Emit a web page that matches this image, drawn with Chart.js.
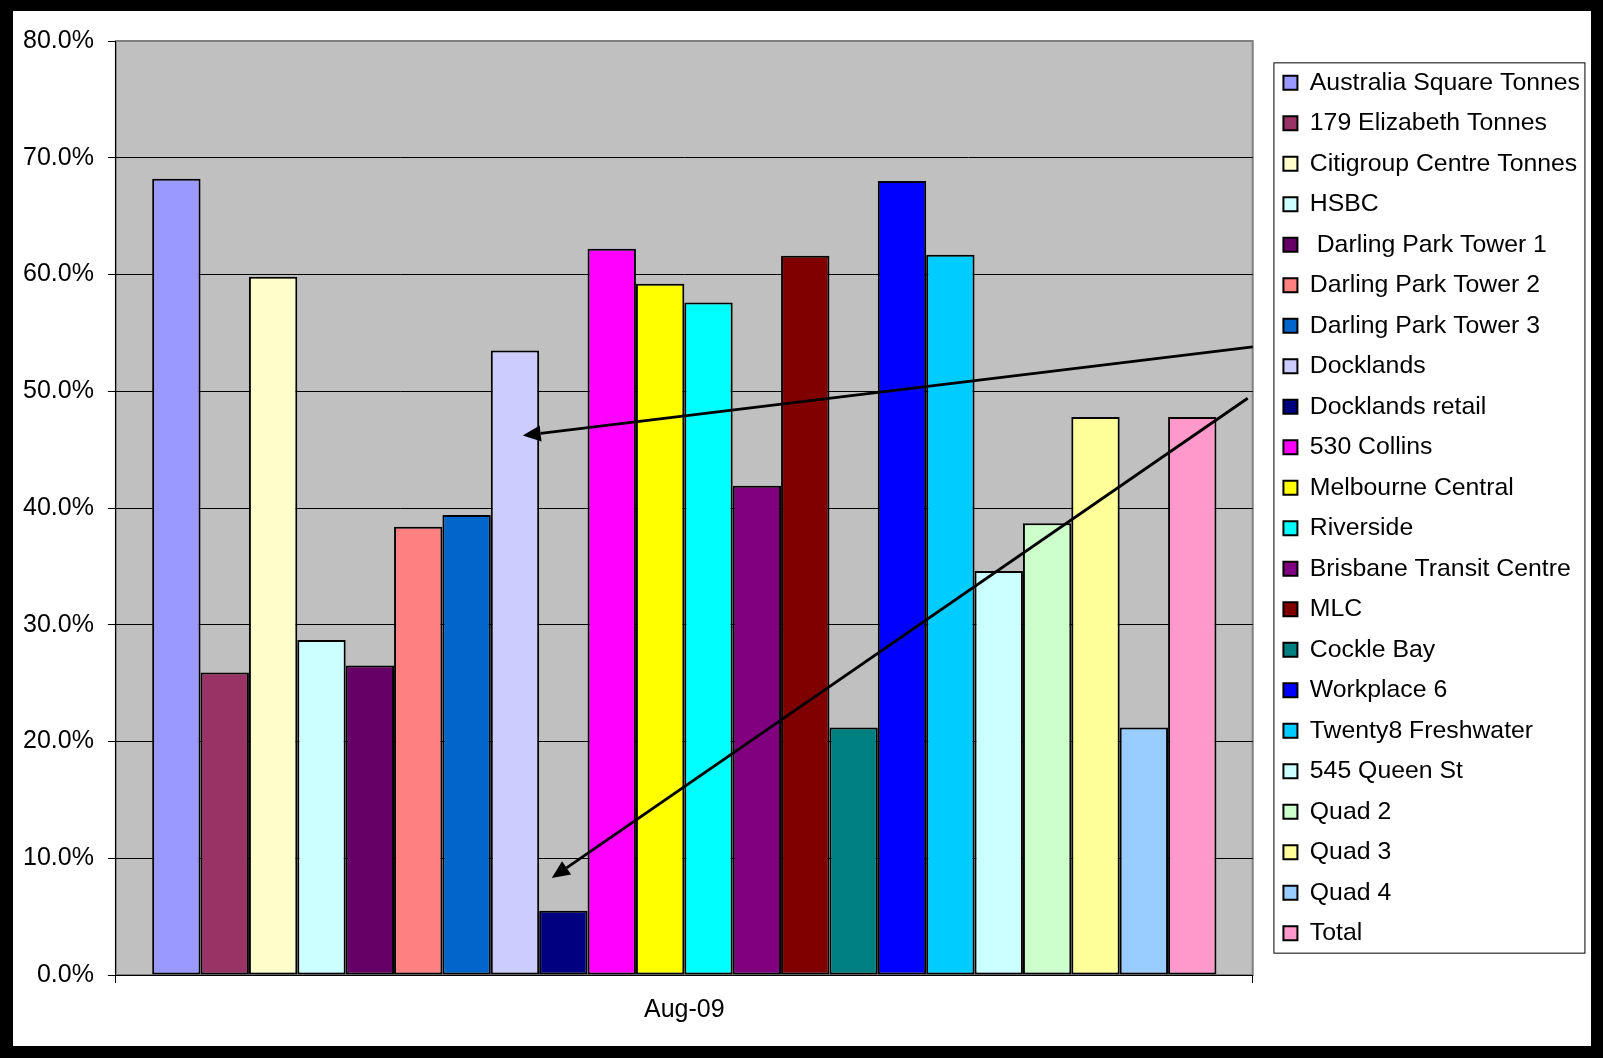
<!DOCTYPE html>
<html>
<head>
<meta charset="utf-8">
<title>Aug-09</title>
<script src="https://cdn.jsdelivr.net/npm/chart.js@4.4.1/dist/chart.umd.min.js"></script>
<style>
  html, body { margin: 0; padding: 0; background: #000; }
  #paper { position: absolute; left: 13px; top: 11px; width: 1578px; height: 1035px; background: #fff; }
  #chart { position: absolute; left: 0; top: 0; }
</style>
</head>
<body>
<div id="paper"></div>
<canvas id="chart" width="1603" height="1058"></canvas>
<script>
// Category on the x axis (only one month)
const categories = ["Aug-09"];

// One series per building (percent)
const seriesNames = [
  "Australia Square Tonnes", "179 Elizabeth Tonnes", "Citigroup Centre Tonnes", "HSBC",
  " Darling Park Tower 1", "Darling Park Tower 2", "Darling Park Tower 3", "Docklands",
  "Docklands retail", "530 Collins", "Melbourne Central", "Riverside",
  "Brisbane Transit Centre", "MLC", "Cockle Bay", "Workplace 6",
  "Twenty8 Freshwater", "545 Queen St", "Quad 2", "Quad 3", "Quad 4", "Total"
];
const seriesValues = [
  68.2, 25.9, 59.8, 28.7,
  26.5, 38.4, 39.4, 53.5,
  5.5, 62.2, 59.2, 57.6,
  41.9, 61.6, 21.2, 68.0,
  61.7, 34.6, 38.7, 47.8, 21.2, 47.8
];
const seriesColors = [
  "#9999FF", "#993366", "#FFFFCC", "#CCFFFF",
  "#660066", "#FF8080", "#0066CC", "#CCCCFF",
  "#000080", "#FF00FF", "#FFFF00", "#00FFFF",
  "#800080", "#800000", "#008080", "#0000FF",
  "#00CCFF", "#CCFFFF", "#CCFFCC", "#FFFF99", "#99CCFF", "#FF99CC"
];

// y axis range (percent)
const yMin = 0;
const yMax = 80;
const yStep = 10;

// The two hand-drawn arrows: tail on the right edge of the plot, head on a bar
const arrows = [
  { fromValue: 53.8, fromInset: 0, toSeries: 7, toShift: 0.16, toValue: 46.2 },
  { fromValue: 49.4, fromInset: 5, toSeries: 8, toShift: -0.24, toValue: 8.3 }
];

Chart.defaults.font.family = '"Liberation Sans", Arial, sans-serif';
Chart.defaults.color = "#000";

const legendFont = 24.8;

// grey plot background with a grey frame
const plotBackground = {
  id: "plotBackground",
  beforeDraw(chart) {
    const { ctx, chartArea: a } = chart;
    ctx.save();
    ctx.fillStyle = "#C0C0C0";
    ctx.fillRect(a.left, a.top, a.width, a.height);
    ctx.strokeStyle = "#808080";
    ctx.lineWidth = 2;
    ctx.strokeRect(a.left, a.top, a.width, a.height);
    ctx.restore();
  }
};

// box round the legend
const legendFrame = {
  id: "legendFrame",
  afterDraw(chart) {
    const lg = chart.legend;
    const boxes = lg.legendHitBoxes;
    if (!boxes || !boxes.length) return;
    const first = boxes[0];
    const last = boxes[boxes.length - 1];
    const ctx = chart.ctx;
    ctx.save();
    ctx.strokeStyle = "#000";
    ctx.lineWidth = 1;
    const left = first.left - 10;
    const top = first.top - 8;
    ctx.strokeRect(left + 0.5, top + 0.5, 311, last.top + last.height + 7 - top);
    ctx.restore();
  }
};

// arrows pointing at the two Docklands bars
const arrowPlugin = {
  id: "arrows",
  afterDatasetsDraw(chart) {
    const { ctx, chartArea: a } = chart;
    const y = chart.scales.y;
    ctx.save();
    ctx.strokeStyle = "#000";
    ctx.fillStyle = "#000";
    ctx.lineWidth = 2.8;
    arrows.forEach(ar => {
      const bar = chart.getDatasetMeta(ar.toSeries).data[0];
      const x1 = a.right - ar.fromInset;
      const y1 = y.getPixelForValue(ar.fromValue);
      const x2 = bar.x + ar.toShift * bar.width;
      const y2 = y.getPixelForValue(ar.toValue);
      const ang = Math.atan2(y2 - y1, x2 - x1);
      const len = 18, half = 8;
      const bx = x2 - len * Math.cos(ang);
      const by = y2 - len * Math.sin(ang);
      ctx.beginPath();
      ctx.moveTo(x1, y1);
      ctx.lineTo(bx, by);
      ctx.stroke();
      ctx.beginPath();
      ctx.moveTo(x2, y2);
      ctx.lineTo(bx + half * Math.sin(ang), by - half * Math.cos(ang));
      ctx.lineTo(bx - half * Math.sin(ang), by + half * Math.cos(ang));
      ctx.closePath();
      ctx.fill();
    });
    ctx.restore();
  }
};

const datasets = seriesNames.map((name, i) => ({
  label: name,
  data: [seriesValues[i]],
  backgroundColor: seriesColors[i],
  borderColor: "#000",
  borderWidth: 2,
  borderSkipped: false,
  categoryPercentage: 22 / 23.5,
  barPercentage: 1
}));

new Chart(document.getElementById("chart"), {
  type: "bar",
  data: { labels: categories, datasets: datasets },
  plugins: [plotBackground, legendFrame, arrowPlugin],
  options: {
    responsive: false,
    animation: false,
    layout: { padding: { left: 9, top: 41, right: 13, bottom: 21 } },
    scales: {
      x: {
        offset: true,
        grid: { offset: true, drawOnChartArea: false, tickLength: 8, color: "#000" },
        border: { color: "#000", width: 1 },
        ticks: { font: { size: 25 }, padding: 12 }
      },
      y: {
        min: yMin,
        max: yMax,
        ticks: {
          stepSize: yStep,
          font: { size: 25 },
          padding: 14,
          callback: v => v.toFixed(1) + "%"
        },
        grid: {
          tickLength: 8,
          color: ctx => (ctx.tick && ctx.tick.value === yMax ? "#808080" : "#000"),
          tickColor: "#000",
          lineWidth: 1
        },
        border: { color: "#000", width: 1 }
      },
      gap: {
        type: "linear",
        position: "right",
        display: true,
        grid: { display: false },
        ticks: { display: false },
        border: { display: false },
        afterFit(scale) { scale.width = 15; }
      }
    },
    plugins: {
      legend: {
        position: "right",
        align: "center",
        fullSize: false,
        maxWidth: 400,
        labels: {
          boxWidth: 14,
          boxHeight: 14,
          padding: 40.5 - legendFont,
          font: { size: legendFont },
          color: "#000"
        }
      },
      tooltip: { enabled: false }
    }
  }
});
</script>
</body>
</html>
